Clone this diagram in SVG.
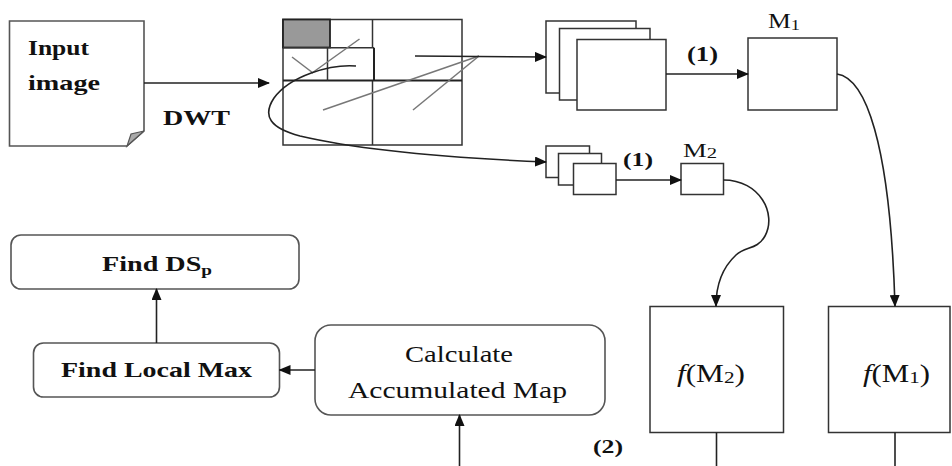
<svg xmlns="http://www.w3.org/2000/svg" width="952" height="466" viewBox="0 0 952 466">
<defs>
<style>
text{font-family:"Liberation Serif","Times New Roman",serif;fill:#111}
.b{font-weight:bold}
.box{fill:#fff;stroke:#333;stroke-width:1.5}
.rbox{fill:#fff;stroke:#555;stroke-width:1.6}
.ln{fill:none;stroke:#222;stroke-width:1.6}
.gl{fill:none;stroke:#777;stroke-width:1.5}
.arr{fill:none;stroke:#222;stroke-width:1.6;marker-end:url(#ah)}
</style>
<marker id="ah" markerUnits="userSpaceOnUse" markerWidth="12" markerHeight="10" refX="11" refY="5" orient="auto">
<path d="M0,0 L12,5 L0,10 z" fill="#111"/>
</marker>
</defs>
<rect width="952" height="466" fill="#fff"/>

<g id="input-image">
<path d="M9.5,21 H144 V131 L127,146 H9.5 Z" fill="#fff" stroke="#555" stroke-width="1.6"/>
<path d="M144,131 L127,146 L131,134 Z" fill="#aaa" stroke="#555" stroke-width="1.2"/>
<text class="b" x="28" y="55" font-size="22" textLength="61" lengthAdjust="spacingAndGlyphs">Input</text>
<text class="b" x="28" y="90" font-size="22" textLength="72" lengthAdjust="spacingAndGlyphs">image</text>
</g>

<g id="dwt-grid">
<rect x="283" y="19.5" width="179" height="125.5" fill="#fff" stroke="#333" stroke-width="1.5"/>
<rect x="283" y="19.5" width="47" height="28" fill="#999" stroke="#222" stroke-width="1.8"/>
<line x1="372.5" y1="19.5" x2="372.5" y2="47.7" stroke="#333" stroke-width="1.5"/>
<line x1="372.5" y1="80.5" x2="372.5" y2="145" stroke="#333" stroke-width="1.5"/>
<line x1="283" y1="80.5" x2="462" y2="80.5" stroke="#222" stroke-width="1.8"/>
<line x1="283" y1="47.7" x2="374" y2="47.7" stroke="#333" stroke-width="1.5"/>
<line x1="327.5" y1="47.7" x2="327.5" y2="80.5" stroke="#333" stroke-width="1.5"/>
<line x1="374" y1="47.7" x2="374" y2="81" stroke="#222" stroke-width="2"/>
<line class="gl" x1="292" y1="57" x2="313" y2="73"/>
<line class="gl" x1="359.5" y1="39" x2="312" y2="73"/>
<line class="gl" x1="323" y1="110" x2="479" y2="56"/>
<line class="gl" x1="413" y1="110" x2="479" y2="56"/>
</g>

<g id="stack-large">
<rect class="box" x="546" y="21" width="90" height="72"/>
<rect class="box" x="559.5" y="28.5" width="90.5" height="71.5"/>
<rect class="box" x="577" y="39.5" width="89" height="70.5"/>
</g>

<g id="stack-small">
<rect class="box" x="546" y="146" width="43.5" height="31.5"/>
<rect class="box" x="558.5" y="153.5" width="43" height="31.5"/>
<rect class="box" x="573.5" y="163.5" width="42.5" height="31"/>
</g>

<g id="m1">
<rect class="box" x="748" y="38" width="89" height="72"/>
<text x="768" y="28" font-size="21" textLength="32" lengthAdjust="spacingAndGlyphs">M<tspan font-size="15" dy="2">1</tspan></text>
</g>

<g id="m2">
<rect class="box" x="681" y="163.5" width="42.5" height="31"/>
<text x="683" y="157" font-size="18" textLength="34" lengthAdjust="spacingAndGlyphs">M<tspan font-size="14" dy="1">2</tspan></text>
</g>

<g id="f-m2">
<rect class="box" x="650" y="306.5" width="133.5" height="126"/>
<text x="677" y="382" font-size="25" textLength="68" lengthAdjust="spacingAndGlyphs"><tspan font-style="italic">f</tspan>(M<tspan font-size="17" dy="1">2</tspan><tspan dy="-1">)</tspan></text>
</g>

<g id="f-m1">
<rect class="box" x="828.5" y="306.5" width="121.5" height="126"/>
<text x="863" y="382" font-size="25" textLength="67" lengthAdjust="spacingAndGlyphs"><tspan font-style="italic">f</tspan>(M<tspan font-size="17" dy="1">1</tspan><tspan dy="-1">)</tspan></text>
</g>

<g id="calc-map">
<rect class="rbox" x="315" y="325" width="290" height="90" rx="16"/>
<text x="405" y="362" font-size="23" textLength="108" lengthAdjust="spacingAndGlyphs">Calculate</text>
<text x="348" y="398" font-size="23" textLength="219" lengthAdjust="spacingAndGlyphs">Accumulated Map</text>
</g>

<g id="find-local-max">
<rect class="rbox" x="33.5" y="343" width="246" height="54" rx="10"/>
<text class="b" x="61" y="377" font-size="22" textLength="191" lengthAdjust="spacingAndGlyphs">Find Local Max</text>
</g>

<g id="find-dsp">
<rect class="rbox" x="11" y="235" width="288" height="54" rx="10"/>
<text class="b" x="102" y="271" font-size="22" textLength="110" lengthAdjust="spacingAndGlyphs">Find DS<tspan font-size="15" dy="4">p</tspan></text>
</g>

<g id="labels">
<text class="b" x="163" y="125" font-size="22" textLength="67" lengthAdjust="spacingAndGlyphs">DWT</text>
<text class="b" x="687" y="61" font-size="20" textLength="31" lengthAdjust="spacingAndGlyphs">(1)</text>
<text class="b" x="623" y="166" font-size="19" textLength="30" lengthAdjust="spacingAndGlyphs">(1)</text>
<text class="b" x="593" y="453" font-size="19" textLength="30" lengthAdjust="spacingAndGlyphs">(2)</text>
</g>

<g id="connectors">
<line class="arr" x1="144" y1="83" x2="269" y2="83"/>
<line class="arr" x1="415" y1="56" x2="546" y2="57"/>
<path class="arr" d="M356,66 C330,64 290,76 274,98 C262,116 270,128 300,136 C360,150 450,158 546,162"/>
<line class="arr" x1="666" y1="74" x2="748" y2="74"/>
<line class="arr" x1="616" y1="180" x2="681" y2="180"/>
<path class="arr" d="M837,74 C865,78 890,140 895,306"/>
<path class="arr" d="M723.5,180 C760,180 777,214 765,236 C757,250 746,246 736,255 C722,268 716,285 716,306"/>
<line class="ln" x1="716.5" y1="432.5" x2="716.5" y2="466"/>
<line class="ln" x1="895" y1="432.5" x2="895" y2="466"/>
<line class="arr" x1="459.5" y1="466" x2="459.5" y2="415"/>
<line class="arr" x1="315" y1="370" x2="279.5" y2="370"/>
<line class="arr" x1="156.5" y1="343" x2="156.5" y2="289"/>
</g>
</svg>
